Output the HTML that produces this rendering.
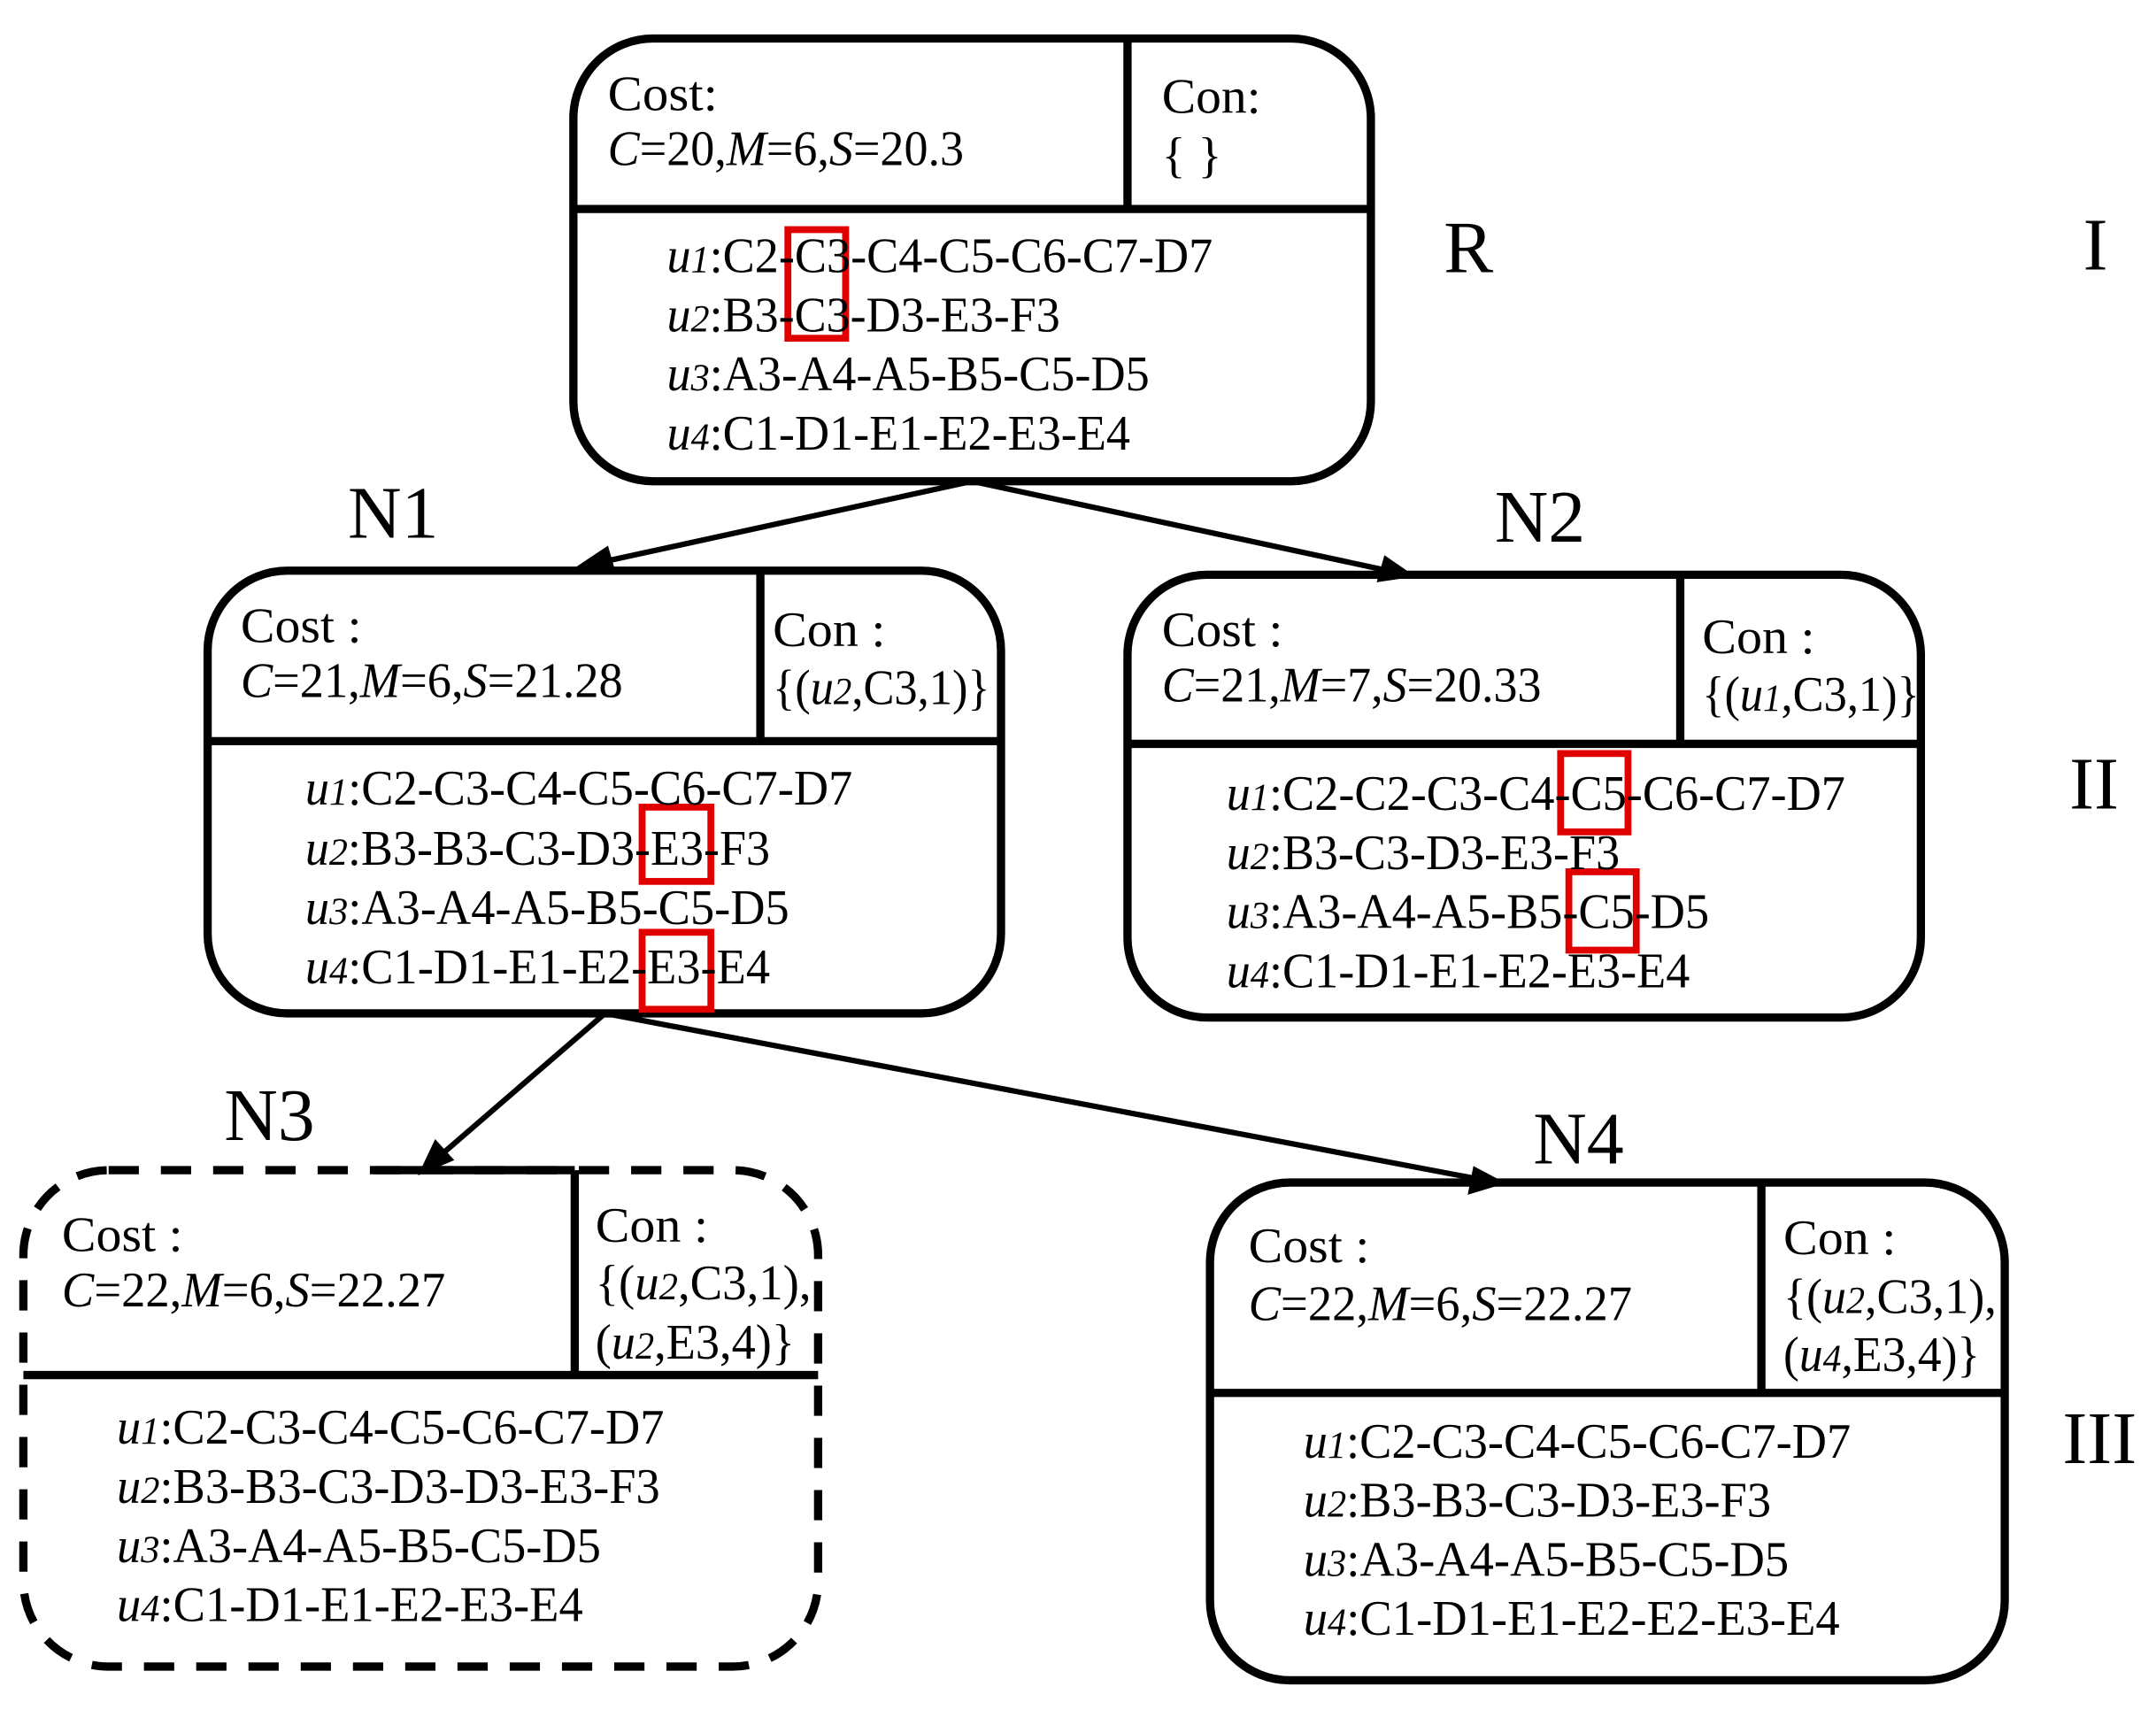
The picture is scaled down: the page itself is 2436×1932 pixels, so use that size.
<!DOCTYPE html>
<html><head><meta charset="utf-8"><style>
html,body{margin:0;padding:0;background:#fff;}
svg{display:block;}
text{font-family:"Liberation Serif",serif;fill:#000;}
</style></head><body>
<svg width="2436" height="1932" viewBox="0 0 1568 1243.6" preserveAspectRatio="none" xmlns="http://www.w3.org/2000/svg">
<g fill="none" stroke="#000" stroke-width="6">
<rect x="417" y="28" width="580" height="322" rx="58"/>
<line x1="417" y1="152" x2="997" y2="152"/>
<line x1="820" y1="28" x2="820" y2="152"/>
<rect x="151" y="415" width="577" height="322" rx="58"/>
<line x1="151" y1="539" x2="728" y2="539"/>
<line x1="553" y1="415" x2="553" y2="539"/>
<rect x="820" y="418" width="577" height="322" rx="58"/>
<line x1="820" y1="541" x2="1397" y2="541"/>
<line x1="1222" y1="418" x2="1222" y2="541"/>
<rect x="17" y="851" width="578" height="361" rx="62" stroke-dasharray="22 16"/>
<line x1="17" y1="1000" x2="595" y2="1000"/>
<line x1="418" y1="851" x2="418" y2="1000"/>
<line x1="272" y1="851" x2="418" y2="851"/>
<rect x="880" y="860" width="578" height="362" rx="58"/>
<line x1="880" y1="1013" x2="1458" y2="1013"/>
<line x1="1281" y1="860" x2="1281" y2="1013"/>
</g>
<g fill="none" stroke="#e00000" stroke-width="5">
<rect x="573" y="167" width="42" height="79"/>
<rect x="467" y="587" width="50" height="54"/>
<rect x="467" y="678" width="50" height="56"/>
<rect x="1135" y="548" width="49" height="57"/>
<rect x="1141" y="634" width="49" height="57"/>
</g>
<g stroke="#000" stroke-width="4" fill="#000">
<line x1="707" y1="350" x2="432" y2="410"/>
<polygon points="423,412 441,400 445,414"/>
<line x1="707" y1="350" x2="1014" y2="416"/>
<polygon points="1024,418 1004,421 1008,407"/>
<line x1="440" y1="737" x2="316" y2="844"/>
<polygon points="308,851 317,832 327,843"/>
<line x1="440" y1="737" x2="1078" y2="858"/>
<polygon points="1090,860 1070,866 1073,851"/>
</g>
<g font-size="54">
<text x="1050" y="198">R</text>
<text x="253" y="391">N1</text>
<text x="1087" y="394">N2</text>
<text x="163" y="829">N3</text>
<text x="1115" y="846">N4</text>
<text x="1515" y="196">I</text>
<text x="1505" y="588">II</text>
<text x="1500" y="1064">III</text>
</g>
<g font-size="36">
<text x="442" y="80" textLength="80" lengthAdjust="spacingAndGlyphs">Cost:</text>
<text x="442" y="120" textLength="259" lengthAdjust="spacingAndGlyphs"><tspan font-style="italic">C</tspan>=20,<tspan font-style="italic">M</tspan>=6,<tspan font-style="italic">S</tspan>=20.3</text>
<text x="845" y="82" textLength="72" lengthAdjust="spacingAndGlyphs">Con:</text>
<text x="845" y="125">{ }</text>
<text x="485" y="198" textLength="397" lengthAdjust="spacingAndGlyphs"><tspan font-style="italic">u</tspan><tspan font-style="italic" font-size="28">1</tspan>:C2-C3-C4-C5-C6-C7-D7</text>
<text x="485" y="241" textLength="286" lengthAdjust="spacingAndGlyphs"><tspan font-style="italic">u</tspan><tspan font-style="italic" font-size="28">2</tspan>:B3-C3-D3-E3-F3</text>
<text x="485" y="284" textLength="351" lengthAdjust="spacingAndGlyphs"><tspan font-style="italic">u</tspan><tspan font-style="italic" font-size="28">3</tspan>:A3-A4-A5-B5-C5-D5</text>
<text x="485" y="327" textLength="337" lengthAdjust="spacingAndGlyphs"><tspan font-style="italic">u</tspan><tspan font-style="italic" font-size="28">4</tspan>:C1-D1-E1-E2-E3-E4</text>
<text x="175" y="467" textLength="88" lengthAdjust="spacingAndGlyphs">Cost :</text>
<text x="175" y="507" textLength="278" lengthAdjust="spacingAndGlyphs"><tspan font-style="italic">C</tspan>=21,<tspan font-style="italic">M</tspan>=6,<tspan font-style="italic">S</tspan>=21.28</text>
<text x="562" y="470" textLength="82" lengthAdjust="spacingAndGlyphs">Con :</text>
<text x="562" y="512" textLength="158" lengthAdjust="spacingAndGlyphs">{(<tspan font-style="italic">u</tspan><tspan font-style="italic" font-size="28">2</tspan>,C3,1)}</text>
<text x="222" y="585" textLength="398" lengthAdjust="spacingAndGlyphs"><tspan font-style="italic">u</tspan><tspan font-style="italic" font-size="28">1</tspan>:C2-C3-C4-C5-C6-C7-D7</text>
<text x="222" y="629" textLength="338" lengthAdjust="spacingAndGlyphs"><tspan font-style="italic">u</tspan><tspan font-style="italic" font-size="28">2</tspan>:B3-B3-C3-D3-E3-F3</text>
<text x="222" y="672" textLength="352" lengthAdjust="spacingAndGlyphs"><tspan font-style="italic">u</tspan><tspan font-style="italic" font-size="28">3</tspan>:A3-A4-A5-B5-C5-D5</text>
<text x="222" y="715" textLength="338" lengthAdjust="spacingAndGlyphs"><tspan font-style="italic">u</tspan><tspan font-style="italic" font-size="28">4</tspan>:C1-D1-E1-E2-E3-E4</text>
<text x="845" y="470" textLength="88" lengthAdjust="spacingAndGlyphs">Cost :</text>
<text x="845" y="510" textLength="276" lengthAdjust="spacingAndGlyphs"><tspan font-style="italic">C</tspan>=21,<tspan font-style="italic">M</tspan>=7,<tspan font-style="italic">S</tspan>=20.33</text>
<text x="1238" y="475" textLength="82" lengthAdjust="spacingAndGlyphs">Con :</text>
<text x="1238" y="517" textLength="158" lengthAdjust="spacingAndGlyphs">{(<tspan font-style="italic">u</tspan><tspan font-style="italic" font-size="28">1</tspan>,C3,1)}</text>
<text x="892" y="589" textLength="450" lengthAdjust="spacingAndGlyphs"><tspan font-style="italic">u</tspan><tspan font-style="italic" font-size="28">1</tspan>:C2-C2-C3-C4-C5-C6-C7-D7</text>
<text x="892" y="632" textLength="286" lengthAdjust="spacingAndGlyphs"><tspan font-style="italic">u</tspan><tspan font-style="italic" font-size="28">2</tspan>:B3-C3-D3-E3-F3</text>
<text x="892" y="675" textLength="351" lengthAdjust="spacingAndGlyphs"><tspan font-style="italic">u</tspan><tspan font-style="italic" font-size="28">3</tspan>:A3-A4-A5-B5-C5-D5</text>
<text x="892" y="718" textLength="337" lengthAdjust="spacingAndGlyphs"><tspan font-style="italic">u</tspan><tspan font-style="italic" font-size="28">4</tspan>:C1-D1-E1-E2-E3-E4</text>
<text x="45" y="910" textLength="88" lengthAdjust="spacingAndGlyphs">Cost :</text>
<text x="45" y="950" textLength="279" lengthAdjust="spacingAndGlyphs"><tspan font-style="italic">C</tspan>=22,<tspan font-style="italic">M</tspan>=6,<tspan font-style="italic">S</tspan>=22.27</text>
<text x="433" y="903" textLength="82" lengthAdjust="spacingAndGlyphs">Con :</text>
<text x="433" y="945" textLength="157" lengthAdjust="spacingAndGlyphs">{(<tspan font-style="italic">u</tspan><tspan font-style="italic" font-size="28">2</tspan>,C3,1),</text>
<text x="433" y="988" textLength="145" lengthAdjust="spacingAndGlyphs">(<tspan font-style="italic">u</tspan><tspan font-style="italic" font-size="28">2</tspan>,E3,4)}</text>
<text x="85" y="1050" textLength="398" lengthAdjust="spacingAndGlyphs"><tspan font-style="italic">u</tspan><tspan font-style="italic" font-size="28">1</tspan>:C2-C3-C4-C5-C6-C7-D7</text>
<text x="85" y="1093" textLength="395" lengthAdjust="spacingAndGlyphs"><tspan font-style="italic">u</tspan><tspan font-style="italic" font-size="28">2</tspan>:B3-B3-C3-D3-D3-E3-F3</text>
<text x="85" y="1136" textLength="352" lengthAdjust="spacingAndGlyphs"><tspan font-style="italic">u</tspan><tspan font-style="italic" font-size="28">3</tspan>:A3-A4-A5-B5-C5-D5</text>
<text x="85" y="1179" textLength="339" lengthAdjust="spacingAndGlyphs"><tspan font-style="italic">u</tspan><tspan font-style="italic" font-size="28">4</tspan>:C1-D1-E1-E2-E3-E4</text>
<text x="908" y="918" textLength="88" lengthAdjust="spacingAndGlyphs">Cost :</text>
<text x="908" y="960" textLength="279" lengthAdjust="spacingAndGlyphs"><tspan font-style="italic">C</tspan>=22,<tspan font-style="italic">M</tspan>=6,<tspan font-style="italic">S</tspan>=22.27</text>
<text x="1297" y="912" textLength="82" lengthAdjust="spacingAndGlyphs">Con :</text>
<text x="1297" y="955" textLength="155" lengthAdjust="spacingAndGlyphs">{(<tspan font-style="italic">u</tspan><tspan font-style="italic" font-size="28">2</tspan>,C3,1),</text>
<text x="1297" y="997" textLength="143" lengthAdjust="spacingAndGlyphs">(<tspan font-style="italic">u</tspan><tspan font-style="italic" font-size="28">4</tspan>,E3,4)}</text>
<text x="948" y="1060" textLength="398" lengthAdjust="spacingAndGlyphs"><tspan font-style="italic">u</tspan><tspan font-style="italic" font-size="28">1</tspan>:C2-C3-C4-C5-C6-C7-D7</text>
<text x="948" y="1103" textLength="340" lengthAdjust="spacingAndGlyphs"><tspan font-style="italic">u</tspan><tspan font-style="italic" font-size="28">2</tspan>:B3-B3-C3-D3-E3-F3</text>
<text x="948" y="1146" textLength="353" lengthAdjust="spacingAndGlyphs"><tspan font-style="italic">u</tspan><tspan font-style="italic" font-size="28">3</tspan>:A3-A4-A5-B5-C5-D5</text>
<text x="948" y="1189" textLength="390" lengthAdjust="spacingAndGlyphs"><tspan font-style="italic">u</tspan><tspan font-style="italic" font-size="28">4</tspan>:C1-D1-E1-E2-E2-E3-E4</text>
</g>
</svg>
</body></html>
